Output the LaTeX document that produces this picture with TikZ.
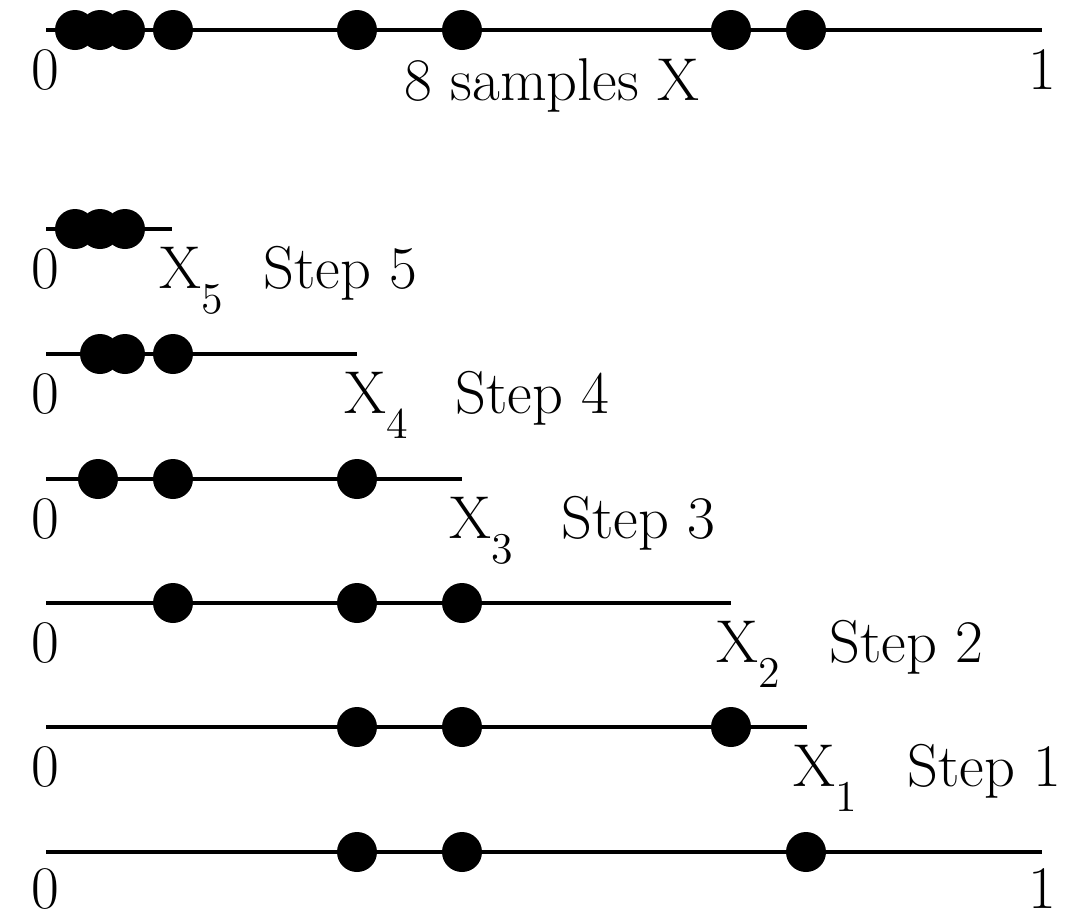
\documentclass[tikz,border=0pt]{standalone}
\usepackage{tikz}
\usetikzlibrary{positioning}
\newcommand{\idx}[1]{\raisebox{-0.42em}{\fontsize{12.5}{12.5}\selectfont #1}}

\begin{document}
\begin{tikzpicture}[x=0.1mm, y=-0.1mm, font=\fontsize{17.2}{20}\selectfont]
        \tikzset{dot/.style={circle,fill,inner sep=0pt,minimum size=4mm},
                 axis/.style={line width=1.1pt},
                 txt/.style={inner sep=0pt,anchor=base west}}
        \useasboundingbox (0,0) rectangle (1066,916);

        % all samples
        \coordinate (t0) at (46,30);
        \coordinate (t1) at (1042,30);
        \draw[axis] (t0) -- (t1);
        \node[dot] (ta) at (75,30) {};
        \node[dot] (tb) at (100,30) {};
        \node[dot] (tc) at (125,30) {};
        \node[dot] (td) at (173,30) {};
        \node[dot] (te) at (357,30) {};
        \node[dot] (tf) at (462,30) {};
        \node[dot] (tg) at (731,30) {};
        \node[dot] (th) at (806,30) {};
        \node[inner sep=0pt] (tz) at (45,70) {0};
        \node[inner sep=0pt] (to) at (1042,70) {1};
        \node[inner sep=0pt,anchor=base] (tl) at (552,100) {8 samples X};

        % step 5
        \coordinate (a5) at (46,229);
        \coordinate (b5) at (172,229);
        \draw[axis] (a5) -- (b5);
        \node[dot] (p5a) at (75,229) {};
        \node[dot] (p5b) at (100,229) {};
        \node[dot] (p5c) at (125,229) {};
        \node[inner sep=0pt] (z5) at (45,269) {0};
        \node[txt] (x5) at (159,288) {X\idx{5}};
        \node[txt] (s5) at (263,288) {Step 5};

        % step 4
        \coordinate (a4) at (46,354);
        \coordinate (b4) at (357,354);
        \draw[axis] (a4) -- (b4);
        \node[dot] (p4a) at (100,354) {};
        \node[dot] (p4b) at (125,354) {};
        \node[dot] (p4c) at (173,354) {};
        \node[inner sep=0pt] (z4) at (45,394) {0};
        \node[txt] (x4) at (344,413) {X\idx{4}};
        \node[txt] (s4) at (455,413) {Step 4};

        % step 3
        \coordinate (a3) at (46,479);
        \coordinate (b3) at (462,479);
        \draw[axis] (a3) -- (b3);
        \node[dot] (p3a) at (98,479) {};
        \node[dot] (p3b) at (173,479) {};
        \node[dot] (p3c) at (357,479) {};
        \node[inner sep=0pt] (z3) at (45,519) {0};
        \node[txt] (x3) at (449,538) {X\idx{3}};
        \node[txt] (s3) at (561,538) {Step 3};

        % step 2
        \coordinate (a2) at (46,603);
        \coordinate (b2) at (731,603);
        \draw[axis] (a2) -- (b2);
        \node[dot] (p2a) at (173,603) {};
        \node[dot] (p2b) at (357,603) {};
        \node[dot] (p2c) at (462,603) {};
        \node[inner sep=0pt] (z2) at (45,643) {0};
        \node[txt] (x2) at (716,662) {X\idx{2}};
        \node[txt] (s2) at (829,662) {Step 2};

        % step 1
        \coordinate (a1) at (46,727);
        \coordinate (b1) at (807,727);
        \draw[axis] (a1) -- (b1);
        \node[dot] (p1a) at (357,727) {};
        \node[dot] (p1b) at (462,727) {};
        \node[dot] (p1c) at (731,727) {};
        \node[inner sep=0pt] (z1) at (45,767) {0};
        \node[txt] (x1) at (793,786) {X\idx{1}};
        \node[txt] (s1) at (907,786) {Step 1};

        % bottom line
        \coordinate (a0) at (46,852);
        \coordinate (b0) at (1042,852);
        \draw[axis] (a0) -- (b0);
        \node[dot] (p0a) at (357,852) {};
        \node[dot] (p0b) at (462,852) {};
        \node[dot] (p0c) at (806,852) {};
        \node[inner sep=0pt] (z0) at (45,889) {0};
        \node[inner sep=0pt] (o0) at (1042,889) {1};
    \end{tikzpicture}
\end{document}
